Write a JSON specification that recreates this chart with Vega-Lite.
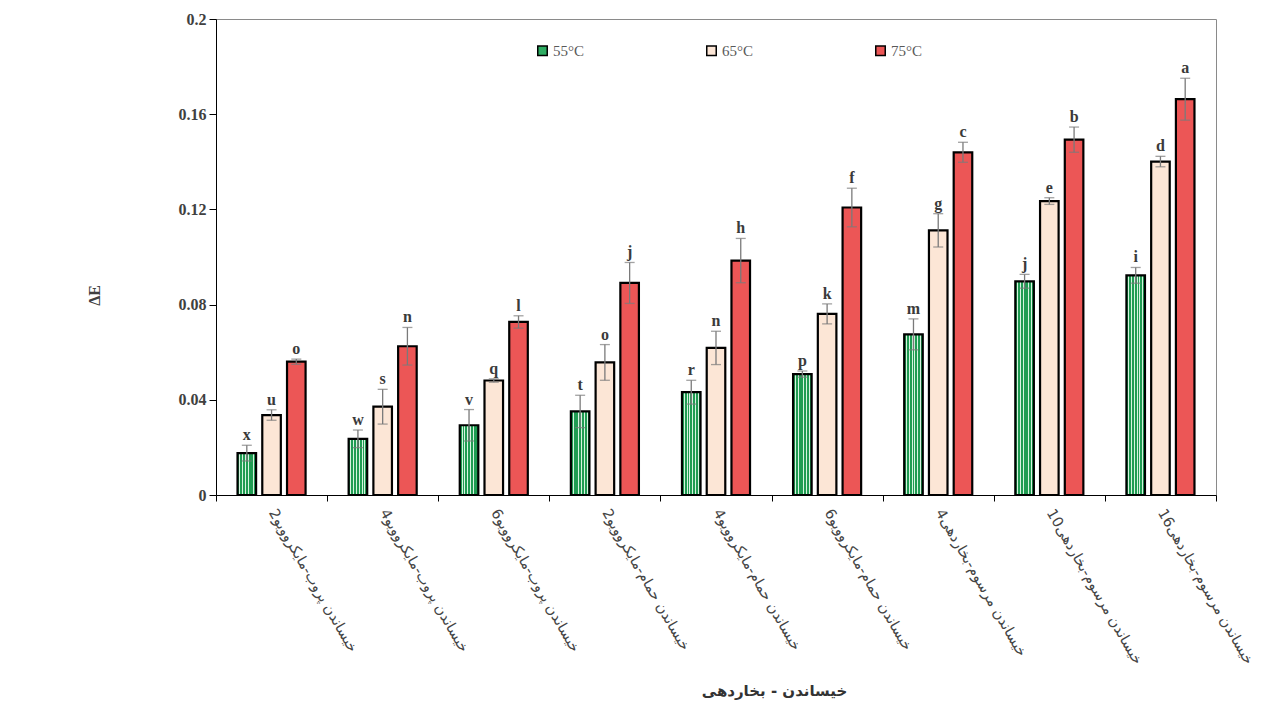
{
  "$schema": "https://vega.github.io/schema/vega-lite/v6.json",
  "autosize": "none",
  "width": 1000,
  "height": 476,
  "padding": {"left": 216, "top": 19, "right": 69, "bottom": 214},
  "background": "white",
  "config": {
    "view": {"stroke": "#8a8a8a", "strokeWidth": 1},
    "axis": {"domainColor": "black", "tickColor": "black", "grid": false}
  },
  "data": {
    "values": [
      {"cat": "خیساندن پروب-مایکروویو2", "temp": "55°C", "value": 0.0176, "lo": 0.0143, "hi": 0.0209, "letter": "x"},
      {"cat": "خیساندن پروب-مایکروویو2", "temp": "65°C", "value": 0.0336, "lo": 0.0314, "hi": 0.0358, "letter": "u"},
      {"cat": "خیساندن پروب-مایکروویو2", "temp": "75°C", "value": 0.0560, "lo": 0.0549, "hi": 0.0571, "letter": "o"},
      {"cat": "خیساندن پروب-مایکروویو4", "temp": "55°C", "value": 0.0236, "lo": 0.0199, "hi": 0.0273, "letter": "w"},
      {"cat": "خیساندن پروب-مایکروویو4", "temp": "65°C", "value": 0.0371, "lo": 0.0298, "hi": 0.0444, "letter": "s"},
      {"cat": "خیساندن پروب-مایکروویو4", "temp": "75°C", "value": 0.0625, "lo": 0.0546, "hi": 0.0704, "letter": "n"},
      {"cat": "خیساندن پروب-مایکروویو6", "temp": "55°C", "value": 0.0293, "lo": 0.0227, "hi": 0.0359, "letter": "v"},
      {"cat": "خیساندن پروب-مایکروویو6", "temp": "65°C", "value": 0.0481, "lo": 0.0474, "hi": 0.0488, "letter": "q"},
      {"cat": "خیساندن پروب-مایکروویو6", "temp": "75°C", "value": 0.0727, "lo": 0.0701, "hi": 0.0753, "letter": "l"},
      {"cat": "خیساندن حمام-مایکروویو2", "temp": "55°C", "value": 0.0351, "lo": 0.0283, "hi": 0.0419, "letter": "t"},
      {"cat": "خیساندن حمام-مایکروویو2", "temp": "65°C", "value": 0.0557, "lo": 0.0482, "hi": 0.0632, "letter": "o"},
      {"cat": "خیساندن حمام-مایکروویو2", "temp": "75°C", "value": 0.0891, "lo": 0.0805, "hi": 0.0977, "letter": "j"},
      {"cat": "خیساندن حمام-مایکروویو4", "temp": "55°C", "value": 0.0432, "lo": 0.0382, "hi": 0.0482, "letter": "r"},
      {"cat": "خیساندن حمام-مایکروویو4", "temp": "65°C", "value": 0.0618, "lo": 0.0548, "hi": 0.0688, "letter": "n"},
      {"cat": "خیساندن حمام-مایکروویو4", "temp": "75°C", "value": 0.0985, "lo": 0.0892, "hi": 0.1078, "letter": "h"},
      {"cat": "خیساندن حمام-مایکروویو6", "temp": "55°C", "value": 0.0508, "lo": 0.0495, "hi": 0.0521, "letter": "p"},
      {"cat": "خیساندن حمام-مایکروویو6", "temp": "65°C", "value": 0.0761, "lo": 0.0719, "hi": 0.0803, "letter": "k"},
      {"cat": "خیساندن حمام-مایکروویو6", "temp": "75°C", "value": 0.1208, "lo": 0.1127, "hi": 0.1289, "letter": "f"},
      {"cat": "خیساندن مرسوم-بخاردهی4", "temp": "55°C", "value": 0.0675, "lo": 0.0610, "hi": 0.0740, "letter": "m"},
      {"cat": "خیساندن مرسوم-بخاردهی4", "temp": "65°C", "value": 0.1112, "lo": 0.1042, "hi": 0.1182, "letter": "g"},
      {"cat": "خیساندن مرسوم-بخاردهی4", "temp": "75°C", "value": 0.1440, "lo": 0.1398, "hi": 0.1482, "letter": "c"},
      {"cat": "خیساندن مرسوم-بخاردهی10", "temp": "55°C", "value": 0.0898, "lo": 0.0869, "hi": 0.0927, "letter": "j"},
      {"cat": "خیساندن مرسوم-بخاردهی10", "temp": "65°C", "value": 0.1235, "lo": 0.1221, "hi": 0.1249, "letter": "e"},
      {"cat": "خیساندن مرسوم-بخاردهی10", "temp": "75°C", "value": 0.1493, "lo": 0.1440, "hi": 0.1546, "letter": "b"},
      {"cat": "خیساندن مرسوم-بخاردهی16", "temp": "55°C", "value": 0.0923, "lo": 0.0890, "hi": 0.0956, "letter": "i"},
      {"cat": "خیساندن مرسوم-بخاردهی16", "temp": "65°C", "value": 0.1401, "lo": 0.1379, "hi": 0.1423, "letter": "d"},
      {"cat": "خیساندن مرسوم-بخاردهی16", "temp": "75°C", "value": 0.1663, "lo": 0.1575, "hi": 0.1751, "letter": "a"}
    ]
  },
  "encoding": {
    "x": {
      "field": "cat",
      "type": "nominal",
      "sort": null,
      "scale": {"paddingInner": 0, "paddingOuter": 0},
      "axis": {
        "title": "خیساندن - بخاردهی",
        "titleFont": "DejaVu Sans",
        "titleFontSize": 15,
        "titleFontWeight": "bold",
        "titleColor": "#333333",
        "titleX": 558,
        "titleY": 195,
        "titleAnchor": null,
        "titleAlign": "center",
        "titleBaseline": "middle",
        "labelAngle": 60,
        "labelAlign": "left",
        "labelBaseline": "middle",
        "labelFont": "DejaVu Sans",
        "labelFontSize": 14.5,
        "labelColor": "#444444",
        "labelPadding": 9,
        "labelLimit": 400,
        "tickBand": "extent",
        "tickSize": 6,
        "domainWidth": 1
      }
    },
    "xOffset": {
      "field": "temp",
      "type": "nominal",
      "scale": {"paddingInner": 0.25, "paddingOuter": 0.87}
    }
  },
  "layer": [
    {
      "mark": {"type": "bar", "stroke": "black", "strokeWidth": 2.2},
      "encoding": {
        "y": {
          "field": "value",
          "type": "quantitative",
          "scale": {"domain": [0, 0.2], "nice": false, "zero": true},
          "axis": {
            "title": "ΔE",
            "titleFont": "Liberation Serif",
            "titleFontSize": 16,
            "titleFontWeight": "bold",
            "titleColor": "#404040",
            "titleAngle": -90,
            "titleX": -122,
            "titleY": 276,
            "titleAnchor": null,
            "titleAlign": "center",
            "titleBaseline": "middle",
            "values": [0, 0.04, 0.08, 0.12, 0.16, 0.2],
            "format": "~g",
            "labelFont": "Liberation Serif",
            "labelFontSize": 16,
            "labelFontWeight": "bold",
            "labelColor": "#404040",
            "labelPadding": 3,
            "tickSize": 7,
            "domainWidth": 1
          }
        },
        "fill": {
          "field": "temp",
          "type": "nominal",
          "scale": {"domain": ["55°C", "65°C", "75°C"], "range": ["#2eac62", "#fce6d6", "#ec5656"]},
          "legend": {
            "orient": "none",
            "legendX": 319,
            "legendY": 24,
            "direction": "horizontal",
            "title": null,
            "symbolType": "square",
            "symbolSize": 90,
            "symbolStrokeColor": "black",
            "symbolStrokeWidth": 1.5,
            "symbolOpacity": 1,
            "labelFont": "Liberation Serif",
            "labelFontSize": 15,
            "labelColor": "#595959",
            "labelOffset": 3,
            "columnPadding": 118
          },
          "condition": {
            "test": "datum.temp === '55°C'",
            "value": {
              "gradient": "linear",
              "x1": 0, "y1": 0, "x2": 1, "y2": 0,
              "stops": [
                {"offset": 0.0, "color": "#1f9c52"},
                {"offset": 0.1, "color": "#1f9c52"},
                {"offset": 0.1, "color": "#d6f3df"},
                {"offset": 0.15, "color": "#d6f3df"},
                {"offset": 0.15, "color": "#1f9c52"},
                {"offset": 0.25, "color": "#1f9c52"},
                {"offset": 0.25, "color": "#d6f3df"},
                {"offset": 0.3, "color": "#d6f3df"},
                {"offset": 0.3, "color": "#1f9c52"},
                {"offset": 0.4, "color": "#1f9c52"},
                {"offset": 0.4, "color": "#d6f3df"},
                {"offset": 0.45, "color": "#d6f3df"},
                {"offset": 0.45, "color": "#1f9c52"},
                {"offset": 0.55, "color": "#1f9c52"},
                {"offset": 0.55, "color": "#d6f3df"},
                {"offset": 0.6, "color": "#d6f3df"},
                {"offset": 0.6, "color": "#1f9c52"},
                {"offset": 0.7, "color": "#1f9c52"},
                {"offset": 0.7, "color": "#d6f3df"},
                {"offset": 0.75, "color": "#d6f3df"},
                {"offset": 0.75, "color": "#1f9c52"},
                {"offset": 0.85, "color": "#1f9c52"},
                {"offset": 0.85, "color": "#d6f3df"},
                {"offset": 0.9, "color": "#d6f3df"},
                {"offset": 0.9, "color": "#1f9c52"},
                {"offset": 1.0, "color": "#1f9c52"}
              ]
            }
          }
        }
      }
    },
    {
      "mark": {"type": "rule", "color": "#7a7a7a", "strokeWidth": 1.3},
      "encoding": {
        "y": {"field": "lo", "type": "quantitative"},
        "y2": {"field": "hi"}
      }
    },
    {
      "mark": {"type": "tick", "color": "#7a7a7a", "thickness": 1.3, "size": 10},
      "encoding": {
        "y": {"field": "hi", "type": "quantitative"}
      }
    },
    {
      "mark": {"type": "tick", "color": "#7a7a7a", "thickness": 1.3, "size": 10},
      "encoding": {
        "y": {"field": "lo", "type": "quantitative"}
      }
    },
    {
      "mark": {
        "type": "text",
        "font": "Liberation Serif",
        "fontSize": 16,
        "fontWeight": "bold",
        "color": "#3a3a3a",
        "baseline": "bottom",
        "dy": -2
      },
      "encoding": {
        "y": {"field": "hi", "type": "quantitative"},
        "text": {"field": "letter", "type": "nominal"}
      }
    }
  ]
}
